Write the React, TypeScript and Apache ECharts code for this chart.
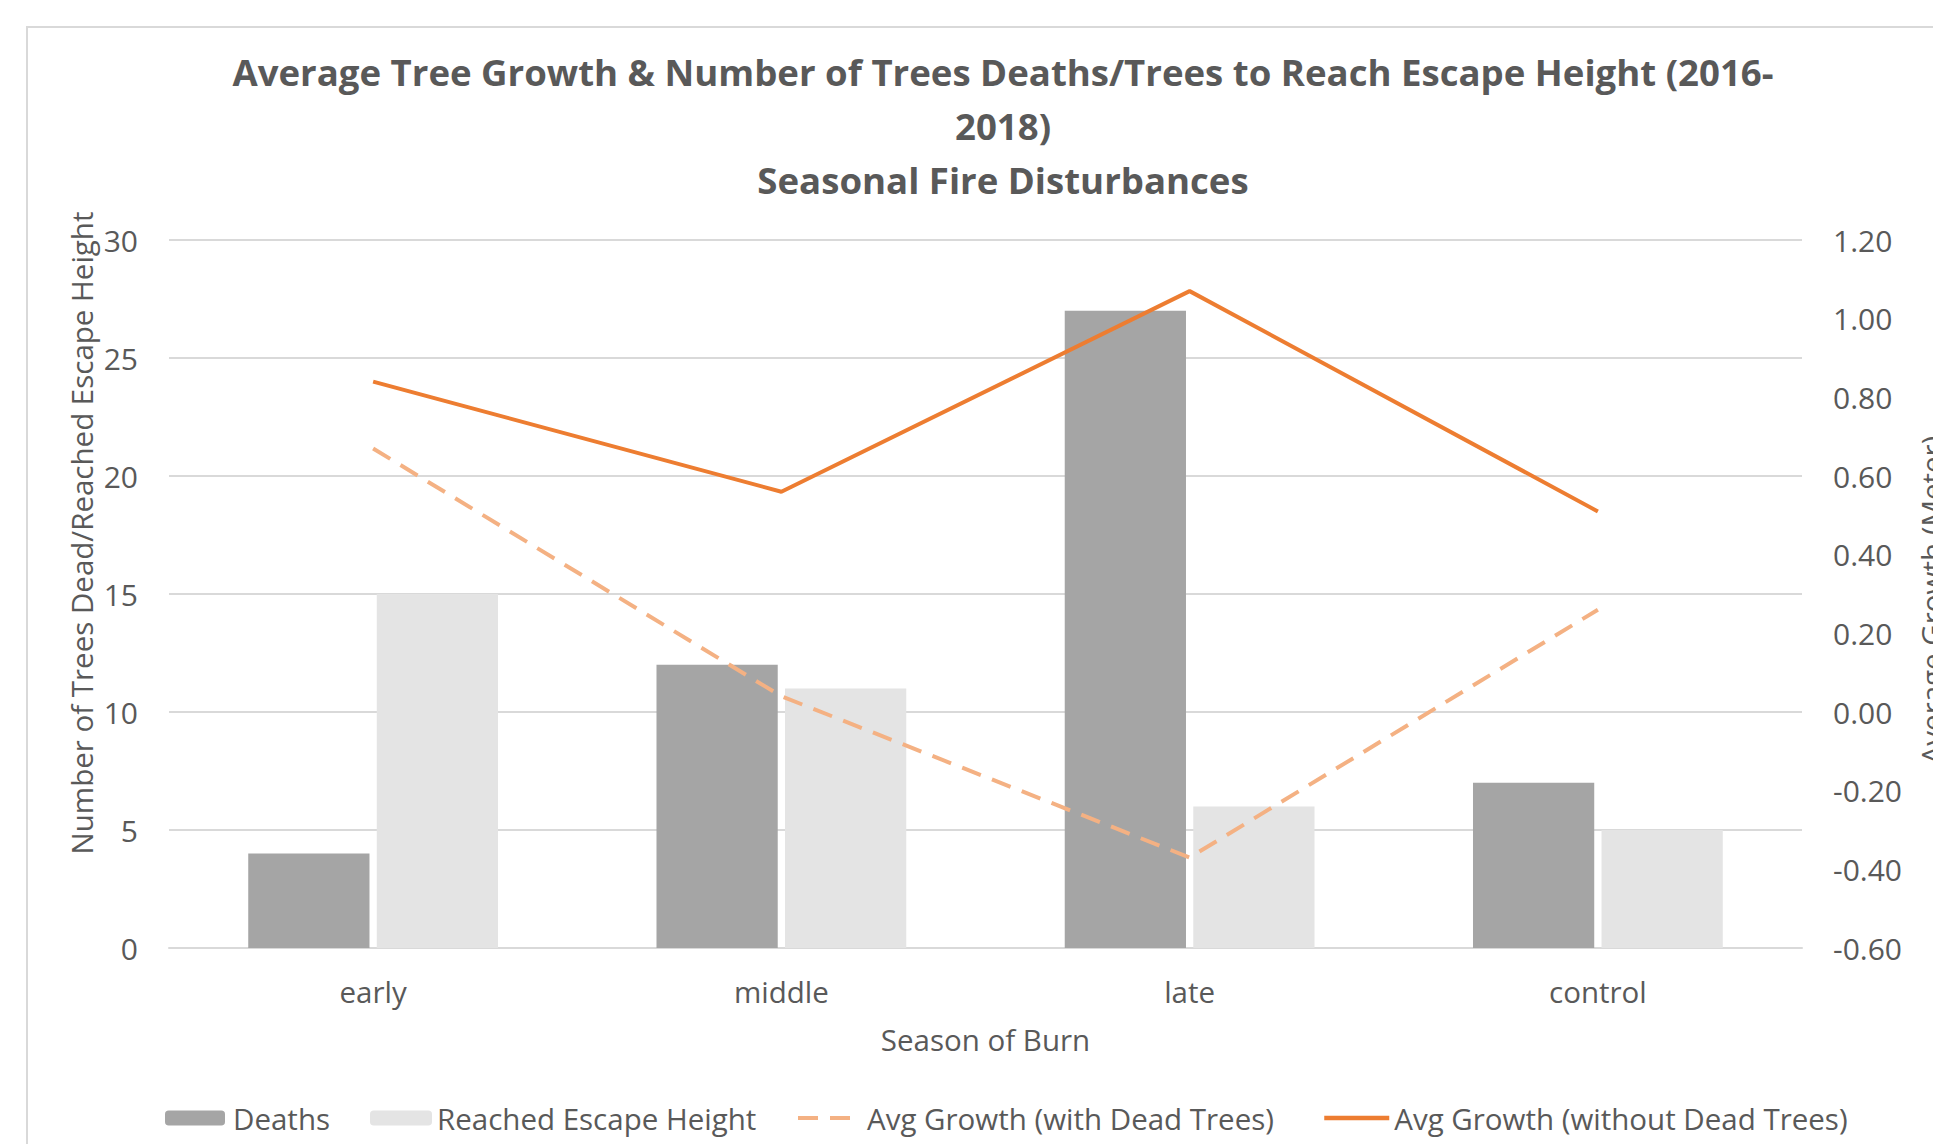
import React, { useEffect, useRef } from "react";
import * as echarts from "echarts";

const categories = ["early", "middle", "late", "control"];
const deaths = [4, 12, 27, 7];
const reachedEscape = [15, 11, 6, 5];
const growthWithDead = [0.67, 0.04, -0.37, 0.26];
const growthWithoutDead = [0.84, 0.56, 1.07, 0.51];

const titleLines = [
  "Average Tree Growth & Number of Trees Deaths/Trees to Reach Escape Height (2016-",
  "2018)",
  "Seasonal Fire Disturbances",
];
const leftAxisName = "Number of Trees Dead/Reached Escape Height";
const rightAxisName = "Average Growth (Meter)";
const xAxisName = "Season of Burn";

const FONT = "'Open Sans', 'DejaVu Sans', sans-serif";
const TXT = "#595959";
const FS = 29.5;

export default function App() {
  const ref = useRef<HTMLDivElement>(null);
  useEffect(() => {
    if (!ref.current) return;
    const chart = echarts.init(ref.current, undefined, { renderer: "svg" });
    const legendBase = {
      orient: "horizontal",
      top: 1103,
      padding: 0,
      itemHeight: 15,
      textStyle: { color: TXT, fontSize: FS, fontFamily: FONT },
      selectedMode: false,
    };
    chart.setOption({
      animation: false,
      backgroundColor: "#ffffff",
      textStyle: { fontFamily: FONT },
      grid: { left: 169, right: 131, top: 240, bottom: 196, containLabel: false },
      legend: [
        {
          ...legendBase,
          left: 165,
          itemWidth: 60,
          textStyle: { ...legendBase.textStyle, padding: [0, 0, 0, 3] },
          data: ["Deaths"],
        },
        { ...legendBase, left: 370, itemWidth: 62, data: ["Reached Escape Height"] },
        {
          ...legendBase,
          left: 796,
          itemWidth: 56,
          itemStyle: { opacity: 0 },
          lineStyle: { width: 4 },
          textStyle: { ...legendBase.textStyle, padding: [0, 0, 0, 8] },
          data: ["Avg Growth (with Dead Trees)"],
        },
        {
          ...legendBase,
          left: 1322,
          itemWidth: 65,
          itemStyle: { opacity: 0 },
          lineStyle: { width: 4.5 },
          data: ["Avg Growth (without Dead Trees)"],
        },
      ],
      xAxis: {
        type: "category",
        data: categories,
        axisLine: { show: true, lineStyle: { color: "#d9d9d9", width: 2 } },
        axisTick: { show: false },
        axisLabel: { color: TXT, fontSize: FS, fontFamily: FONT, margin: 28 },
        name: xAxisName,
        nameLocation: "middle",
        nameGap: 76,
        nameTextStyle: { color: TXT, fontSize: FS, fontFamily: FONT },
      },
      yAxis: [
        {
          type: "value",
          min: 0,
          max: 30,
          interval: 5,
          axisLine: { show: false },
          axisTick: { show: false },
          splitLine: { lineStyle: { color: "#d9d9d9", width: 2 } },
          axisLabel: { color: TXT, fontSize: 30, fontFamily: FONT, margin: 31 },
        },
        {
          type: "value",
          min: -0.6,
          max: 1.2,
          interval: 0.2,
          position: "right",
          axisLine: { show: false },
          axisTick: { show: false },
          splitLine: { show: false },
          axisLabel: {
            color: TXT,
            fontSize: 30,
            fontFamily: FONT,
            margin: 31,
            formatter: (v: number) => v.toFixed(2),
          },
        },
      ],
      series: [
        {
          name: "Deaths",
          type: "bar",
          data: deaths,
          barWidth: "29.7%",
          barGap: "6%",
          itemStyle: { color: "#a5a5a5" },
        },
        {
          name: "Reached Escape Height",
          type: "bar",
          data: reachedEscape,
          barWidth: "29.7%",
          barGap: "6%",
          itemStyle: { color: "#e4e4e4" },
        },
        {
          name: "Avg Growth (with Dead Trees)",
          type: "line",
          yAxisIndex: 1,
          data: growthWithDead,
          symbol: "none",
          itemStyle: { color: "#f4b183" },
          lineStyle: { color: "#f4b183", width: 4, type: [20, 12] },
        },
        {
          name: "Avg Growth (without Dead Trees)",
          type: "line",
          yAxisIndex: 1,
          data: growthWithoutDead,
          symbol: "none",
          itemStyle: { color: "#ed7d31" },
          lineStyle: { color: "#ed7d31", width: 4 },
        },
      ],
      graphic: [
        {
          type: "rect",
          z: -10,
          shape: { x: 27, y: 27, width: 2000, height: 2000 },
          style: { fill: "none", stroke: "#d9d9d9", lineWidth: 2 },
        },
        ...titleLines.map((t, i) => ({
          type: "text",
          x: 1003,
          y: 72 + i * 54,
          style: {
            text: t,
            fill: TXT,
            fontSize: 36.6,
            fontWeight: "bold",
            fontFamily: FONT,
            align: "center",
            verticalAlign: "middle",
          },
        })),
        {
          type: "text",
          x: 81,
          y: 533,
          rotation: Math.PI / 2,
          style: {
            text: leftAxisName,
            fill: TXT,
            fontSize: FS,
            fontFamily: FONT,
            align: "center",
            verticalAlign: "middle",
          },
        },
        {
          type: "text",
          x: 1931,
          y: 600,
          rotation: Math.PI / 2,
          style: {
            text: rightAxisName,
            fill: TXT,
            fontSize: FS,
            fontFamily: FONT,
            align: "center",
            verticalAlign: "middle",
          },
        },
      ],
    });
    return () => chart.dispose();
  }, []);
  return (
    <div
      ref={ref}
      style={{ position: "fixed", left: 0, top: 0, width: 1933, height: 1144 }}
    />
  );
}
